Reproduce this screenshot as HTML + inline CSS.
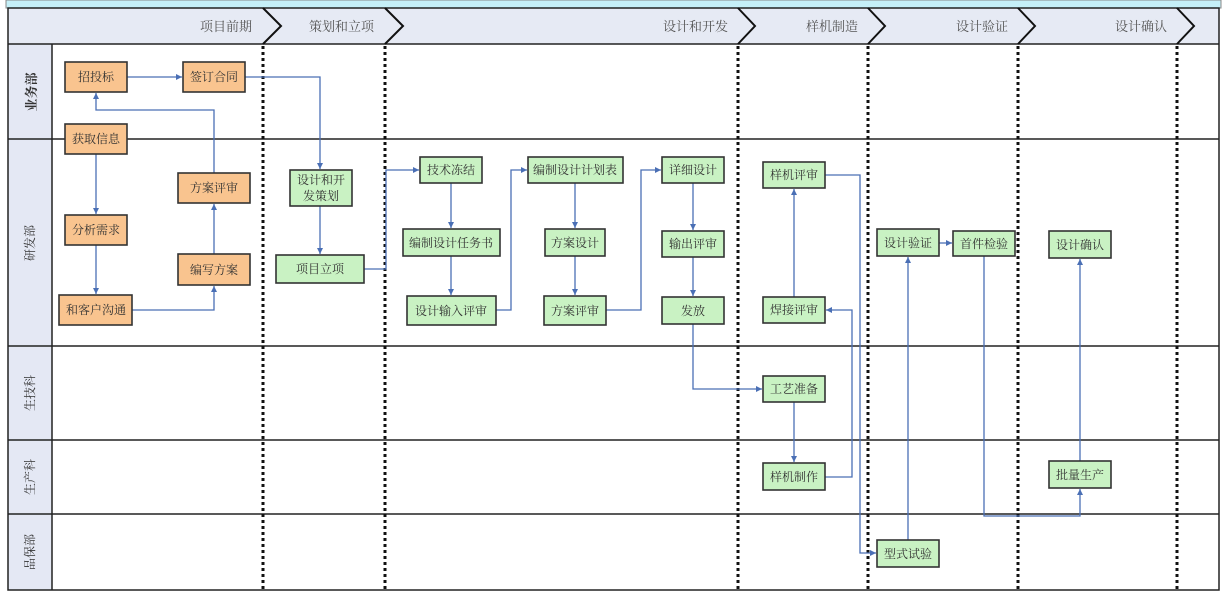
<!DOCTYPE html>
<html><head><meta charset="utf-8"><style>
html,body{margin:0;padding:0;background:#fff;}
svg{display:block;}
text{font-family:"Liberation Serif","Noto Serif CJK SC",serif;}
</style></head><body>
<svg width="1227" height="604" viewBox="0 0 1227 604" xmlns="http://www.w3.org/2000/svg">
<defs>
<marker id="a" markerWidth="8" markerHeight="8" refX="6" refY="3" orient="auto" markerUnits="userSpaceOnUse"><path d="M0,0 L6,3 L0,6 z" fill="#4a6fb5"/></marker>
</defs>
<rect x="0" y="0" width="1227" height="604" fill="#fff"/>
<rect x="6" y="0" width="1215" height="8" fill="#c5f0f8" stroke="#888" stroke-width="1"/>
<rect x="8" y="8" width="1211" height="36" fill="#e6eaf4"/>
<rect x="8" y="44" width="44" height="546" fill="#e4e8f4"/>
<g stroke="#222" stroke-width="1.5" fill="none">
<rect x="8" y="8" width="1211" height="582"/>
<line x1="8" y1="44" x2="1219" y2="44"/>
<line x1="52" y1="44" x2="52" y2="590"/>
<line x1="8" y1="139" x2="1219" y2="139"/>
<line x1="8" y1="346" x2="1219" y2="346"/>
<line x1="8" y1="440" x2="1219" y2="440"/>
<line x1="8" y1="514" x2="1219" y2="514"/>
</g>
<g stroke="#111" stroke-width="2" fill="none">
<polyline points="263,8 281,26 263,44"/>
<polyline points="385,8 403,26 385,44"/>
<polyline points="738,8 755,26 738,44"/>
<polyline points="868,8 885,26 868,44"/>
<polyline points="1018,8 1035,26 1018,44"/>
<polyline points="1177,8 1194,26 1177,44"/>
</g>
<g stroke="#111" stroke-width="3" stroke-dasharray="3,3">
<line x1="263" y1="46" x2="263" y2="590"/>
<line x1="385" y1="46" x2="385" y2="590"/>
<line x1="738" y1="46" x2="738" y2="590"/>
<line x1="868" y1="46" x2="868" y2="590"/>
<line x1="1018" y1="46" x2="1018" y2="590"/>
<line x1="1177" y1="46" x2="1177" y2="590"/>
</g>
<g font-size="13" fill="#555" text-anchor="end">
<text x="252" y="31">项目前期</text>
<text x="374" y="31">策划和立项</text>
<text x="728" y="31">设计和开发</text>
<text x="858" y="31">样机制造</text>
<text x="1008" y="31">设计验证</text>
<text x="1167" y="31">设计确认</text>
</g>
<g font-size="12" fill="#333" text-anchor="middle">
<text transform="translate(36,92) rotate(-90)" font-size="13" font-weight="bold">业务部</text>
<text transform="translate(34,243) rotate(-90)">研发部</text>
<text transform="translate(34,393) rotate(-90)">生技科</text>
<text transform="translate(34,477) rotate(-90)">生产科</text>
<text transform="translate(34,552) rotate(-90)">品保部</text>
</g>
<g stroke="#4a6fb5" stroke-width="1.3" fill="none" marker-end="url(#a)">
<line x1="127" y1="77" x2="182" y2="77"/>
<polyline points="245,77 320,77 320,169"/>
<line x1="320" y1="206" x2="320" y2="254"/>
<polyline points="364,269 386,269 386,170 419,170"/>
<line x1="96" y1="154" x2="96" y2="214"/>
<line x1="96" y1="245" x2="96" y2="294"/>
<polyline points="132,310 214,310 214,286"/>
<line x1="214" y1="254" x2="214" y2="204"/>
<polyline points="214,173 214,110 96,110 96,93"/>
<line x1="451" y1="183" x2="451" y2="228"/>
<line x1="451" y1="256" x2="451" y2="295"/>
<polyline points="496,310 511,310 511,170 527,170"/>
<line x1="575" y1="183" x2="575" y2="228"/>
<line x1="575" y1="256" x2="575" y2="295"/>
<polyline points="606,310 641,310 641,170 661,170"/>
<line x1="693" y1="183" x2="693" y2="230"/>
<line x1="693" y1="257" x2="693" y2="296"/>
<polyline points="693,324 693,389 762,389"/>
<line x1="794" y1="402" x2="794" y2="462"/>
<polyline points="825,477 852,477 852,310 826,310"/>
<line x1="794" y1="297" x2="794" y2="189"/>
<polyline points="825,175 860,175 860,553 876,553"/>
<line x1="908" y1="540" x2="908" y2="257"/>
<line x1="939" y1="243" x2="952" y2="243"/>
<polyline points="984,256 984,516 1080,516 1080,489"/>
<line x1="1080" y1="461" x2="1080" y2="259"/>
</g>
<g stroke="#333" stroke-width="1.6" font-size="12" text-anchor="middle">
<g fill="#f9c48f">
<rect x="65" y="62" width="62" height="30"/>
<rect x="183" y="62" width="62" height="30"/>
<rect x="65" y="124" width="62" height="30"/>
<rect x="178" y="173" width="72" height="30"/>
<rect x="65" y="215" width="62" height="30"/>
<rect x="178" y="254" width="72" height="31"/>
<rect x="59" y="295" width="73" height="30"/>
</g>
<g fill="#c9f2c3">
<rect x="290" y="170" width="62" height="36"/>
<rect x="276" y="255" width="88" height="28"/>
<rect x="420" y="157" width="62" height="26"/>
<rect x="403" y="229" width="97" height="27"/>
<rect x="407" y="296" width="89" height="29"/>
<rect x="528" y="157" width="95" height="26"/>
<rect x="545" y="229" width="60" height="27"/>
<rect x="544" y="296" width="62" height="29"/>
<rect x="662" y="157" width="62" height="26"/>
<rect x="662" y="231" width="62" height="26"/>
<rect x="662" y="297" width="62" height="27"/>
<rect x="763" y="162" width="62" height="26"/>
<rect x="763" y="297" width="62" height="26"/>
<rect x="763" y="376" width="62" height="26"/>
<rect x="763" y="463" width="62" height="27"/>
<rect x="877" y="229" width="62" height="27"/>
<rect x="953" y="231" width="62" height="25"/>
<rect x="1049" y="231" width="62" height="27"/>
<rect x="1049" y="461" width="62" height="27"/>
<rect x="877" y="540" width="62" height="27"/>
</g>
</g>
<g font-size="12" fill="#333" text-anchor="middle">
<text x="96" y="81">招投标</text>
<text x="214" y="81">签订合同</text>
<text x="96" y="143">获取信息</text>
<text x="214" y="192">方案评审</text>
<text x="96" y="234">分析需求</text>
<text x="214" y="274">编写方案</text>
<text x="96" y="314">和客户沟通</text>
<text x="321" y="184">设计和开</text>
<text x="321" y="200">发策划</text>
<text x="320" y="273">项目立项</text>
<text x="451" y="174">技术冻结</text>
<text x="451" y="247">编制设计任务书</text>
<text x="451" y="315">设计输入评审</text>
<text x="575" y="174">编制设计计划表</text>
<text x="575" y="247">方案设计</text>
<text x="575" y="315">方案评审</text>
<text x="693" y="174">详细设计</text>
<text x="693" y="248">输出评审</text>
<text x="693" y="315">发放</text>
<text x="794" y="179">样机评审</text>
<text x="794" y="314">焊接评审</text>
<text x="794" y="393">工艺准备</text>
<text x="794" y="481">样机制作</text>
<text x="908" y="247">设计验证</text>
<text x="984" y="248">首件检验</text>
<text x="1080" y="249">设计确认</text>
<text x="1080" y="479">批量生产</text>
<text x="908" y="558">型式试验</text>
</g>
</svg>
</body></html>
